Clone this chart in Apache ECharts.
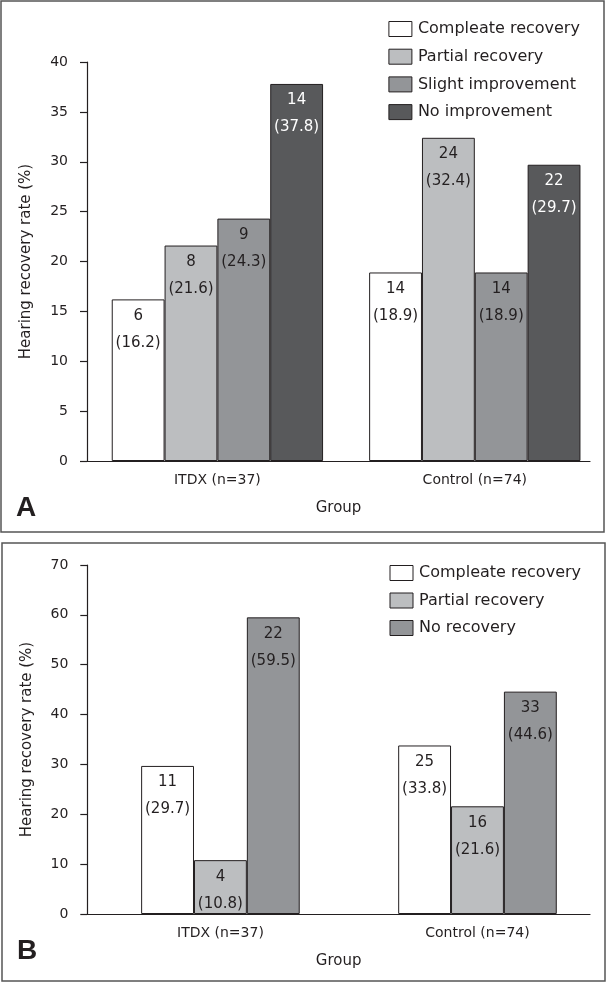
<!DOCTYPE html>
<html>
<head>
<meta charset="utf-8">
<script src="https://cdn.jsdelivr.net/npm/echarts@6/dist/echarts.min.js"></script>
<style>
html,body{margin:0;padding:0;background:#fff;}
#c{width:606px;height:983px;}
</style>
</head>
<body>
<div id="c"></div>
<script>
// ---- data ----
const categories = ['ITDX (n=37)', 'Control (n=74)'];

const seriesNamesA = ['Compleate recovery', 'Partial recovery', 'Slight improvement', 'No improvement'];
const countsA = [[6, 14], [8, 24], [9, 14], [14, 22]];
const pctA = [[16.2, 18.9], [21.6, 32.4], [24.3, 18.9], [37.8, 29.7]];

const seriesNamesB = ['Compleate recovery', 'Partial recovery', 'No recovery'];
const countsB = [[11, 25], [4, 16], [22, 33]];
const pctB = [[29.7, 33.8], [10.8, 21.6], [59.5, 44.6]];

const yMaxA = 40, yStepA = 5;
const yMaxB = 70, yStepB = 10;

const yTitle = 'Hearing recovery rate (%)';
const xTitle = 'Group';

// ---- styles ----
const colorsA = ['#ffffff', '#bcbec0', '#939598', '#58595b'];
const labelColorsA = ['#231f20', '#231f20', '#231f20', '#ffffff'];
const colorsB = ['#ffffff', '#bcbec0', '#939598'];
const labelColorsB = ['#231f20', '#231f20', '#231f20'];
const ink = '#231f20';
const FONT = 'DejaVu Sans';

function makeSeries(names, counts, pcts, colors, labelColors, axisIdx, gap) {
  return names.map((n, si) => ({
    name: n,
    type: 'bar',
    xAxisIndex: axisIdx,
    yAxisIndex: axisIdx,
    data: pcts[si],
    barGap: 0,
    barCategoryGap: gap,
    itemStyle: { color: colors[si], borderColor: ink, borderWidth: 1 },
    label: {
      show: true,
      position: 'insideTop',
      distance: 3,
      fontFamily: FONT,
      fontSize: 15,
      lineHeight: 27,
      color: labelColors[si],
      formatter: p => counts[si][p.dataIndex] + '\n(' + pcts[si][p.dataIndex].toFixed(1) + ')'
    },
    emphasis: { disabled: true },
    animation: false
  }));
}

function axisPair(gridLine, gridBar, max, step) {
  return {
    x: [
      {
        gridIndex: gridLine, type: 'category', data: categories,
        axisLine: { show: true, lineStyle: { color: ink, width: 1.2 } },
        axisTick: { show: false }, axisLabel: { show: false },
        name: xTitle, nameLocation: 'middle', nameGap: 40,
        nameTextStyle: { fontFamily: FONT, fontSize: 15, color: ink }
      },
      {
        gridIndex: gridBar, type: 'category', data: categories,
        axisLine: { show: false }, axisTick: { show: false },
        axisLabel: { show: true, margin: 12, fontFamily: FONT, fontSize: 14, color: ink }
      }
    ],
    y: [
      {
        gridIndex: gridLine, type: 'value', min: 0, max: max, interval: step,
        axisLine: { show: true, lineStyle: { color: ink, width: 1.2 } },
        axisTick: { show: true, length: 7, lineStyle: { color: ink, width: 1.2 } },
        axisLabel: { margin: 19, fontFamily: FONT, fontSize: 14, color: ink },
        splitLine: { show: false },
        name: yTitle, nameLocation: 'middle', nameGap: 53, nameRotate: 90,
        nameTextStyle: { fontFamily: FONT, fontSize: 15, color: ink }
      },
      {
        gridIndex: gridBar, type: 'value', min: 0, max: max, interval: step, show: false
      }
    ]
  };
}

const pa = axisPair(0, 1, yMaxA, yStepA);
const pb = axisPair(2, 3, yMaxB, yStepB);

const legendBase = {
  orient: 'vertical',
  itemWidth: 23,
  itemHeight: 15,
  icon: 'rect',
  itemStyle: { borderColor: ink, borderWidth: 1 },
  textStyle: { fontFamily: FONT, fontSize: 16, color: ink, lineHeight: 16, padding: [0, 0, 0, 1] },
  selectedMode: false
};

const option = {
  animation: false,
  textStyle: { fontFamily: FONT },
  grid: [
    { left: 87, right: 16, top: 62, height: 399 },
    { left: 88.7, width: 514.8, top: 62, height: 399 },
    { left: 87.3, right: 16, top: 565, height: 349 },
    { left: 91.9, width: 514.4, top: 565, height: 349 }
  ],
  xAxis: pa.x.concat(pb.x),
  yAxis: pa.y.concat(pb.y),
  legend: [
    Object.assign({}, legendBase, { data: seriesNamesA, left: 383.4, top: 16, itemGap: 11.7 }),
    Object.assign({}, legendBase, { data: seriesNamesB, left: 384.5, top: 560, itemGap: 11.5 })
  ],
  series: makeSeries(seriesNamesA, countsA, pctA, colorsA, labelColorsA, 1, '17.9%')
    .concat(makeSeries(seriesNamesB, countsB, pctB, colorsB, labelColorsB, 3, '38.3%')),
  graphic: [
    { type: 'rect', shape: { x: 1, y: 1, width: 603, height: 531 }, style: { fill: 'none', stroke: '#555', lineWidth: 1.5 }, z: -1 },
    { type: 'rect', shape: { x: 2, y: 543, width: 603, height: 438 }, style: { fill: 'none', stroke: '#555', lineWidth: 1.5 }, z: -1 },
    { type: 'text', x: 16, y: 508, style: { text: 'A', font: 'bold 28px "Liberation Sans"', fill: ink, verticalAlign: 'middle' } },
    { type: 'text', x: 17, y: 951, style: { text: 'B', font: 'bold 28px "Liberation Sans"', fill: ink, verticalAlign: 'middle' } }
  ]
};

option.xAxis[2].gridIndex = 2; option.xAxis[3].gridIndex = 3;
option.yAxis[2].gridIndex = 2; option.yAxis[3].gridIndex = 3;

const chart = echarts.init(document.getElementById('c'), null, { renderer: 'canvas' });
chart.setOption(option);
</script>
</body>
</html>
